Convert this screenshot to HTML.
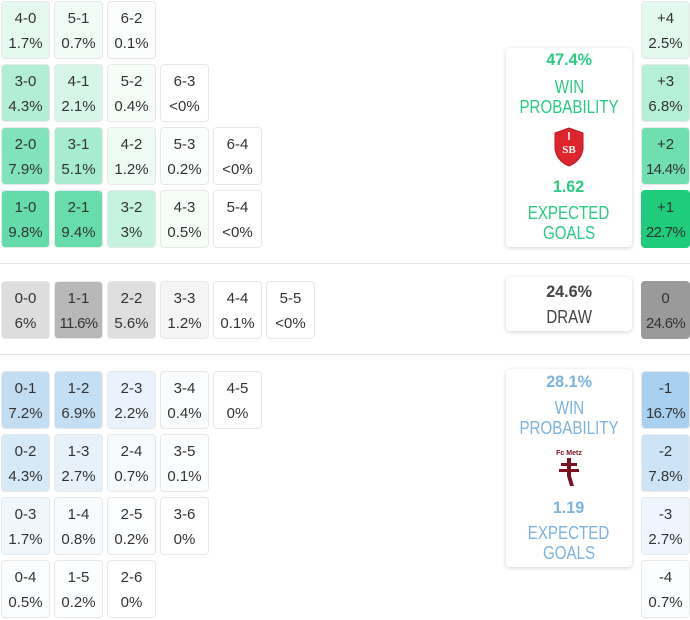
<!DOCTYPE html>
<html><head><meta charset="utf-8"><style>
body{margin:0;width:690px;height:620px;background:#fff;position:relative;overflow:hidden;font-family:"Liberation Sans",sans-serif;color:#333}
.c{position:absolute;width:47px;border:1px solid #e8e8e8;border-radius:4px;text-align:center;font-size:15px;line-height:25px;padding-top:4px;height:52px}
.c span{letter-spacing:-0.7px}
.hr{position:absolute;left:0;width:690px;height:1px;background:#e4e4e4}
.box{position:absolute;left:506px;width:126px;background:#fff;border-radius:4px;box-shadow:0 1px 4px rgba(0,0,0,.18);text-align:center;font-size:18px}
.t{position:absolute;left:0;width:126px;height:20px;line-height:20px;margin-top:-10px;text-align:center;white-space:nowrap}
.t span{display:inline-block;transform:scaleX(.84)}
.b{font-weight:bold;font-size:17px}
.b span{transform:scaleX(.95)}
</style></head><body>
<div class="c" style="left:1px;top:1px;background:#e6f9f0">4-0<br>1.7%</div>
<div class="c" style="left:54px;top:1px;background:#f1fcf7">5-1<br>0.7%</div>
<div class="c" style="left:107px;top:1px;background:#fbfefc">6-2<br>0.1%</div>

<div class="c" style="left:1px;top:64px;background:#b2eed5">3-0<br>4.3%</div>
<div class="c" style="left:54px;top:64px;background:#d5f6e8">4-1<br>2.1%</div>
<div class="c" style="left:107px;top:64px;background:#f6fdf9">5-2<br>0.4%</div>
<div class="c" style="left:160px;top:64px;background:#fff">6-3<br>&lt;0%</div>

<div class="c" style="left:1px;top:127px;background:#80e3bb">2-0<br>7.9%</div>
<div class="c" style="left:54px;top:127px;background:#a6ecd0">3-1<br>5.1%</div>
<div class="c" style="left:107px;top:127px;background:#eefbf5">4-2<br>1.2%</div>
<div class="c" style="left:160px;top:127px;background:#fcfefd">5-3<br>0.2%</div>
<div class="c" style="left:213px;top:127px;background:#fff">6-4<br>&lt;0%</div>

<div class="c" style="left:1px;top:190px;background:#63dcaa">1-0<br>9.8%</div>
<div class="c" style="left:54px;top:190px;background:#68ddac">2-1<br>9.4%</div>
<div class="c" style="left:107px;top:190px;background:#c5f3df">3-2<br>3%</div>
<div class="c" style="left:160px;top:190px;background:#f6fdf9">4-3<br>0.5%</div>
<div class="c" style="left:213px;top:190px;background:#fff">5-4<br>&lt;0%</div>

<div class="c" style="left:641px;top:1px;background:#e3f8ee">+4<br>2.5%</div>
<div class="c" style="left:641px;top:64px;background:#b6efd7">+3<br>6.8%</div>
<div class="c" style="left:641px;top:127px;background:#6fdfb0">+2<br><span>14.4%</span></div>
<div class="c" style="left:641px;top:190px;background:#1fcc7c;border-color:#1fcc7c">+1<br><span>22.7%</span></div>

<div class="box" style="top:48px;height:199px;color:#2bcb82">
<div class="t b" style="top:12px"><span>47.4%</span></div>
<div class="t" style="top:39px"><span>WIN</span></div>
<div class="t" style="top:59px"><span>PROBABILITY</span></div>
<svg width="32" height="40" viewBox="0 0 32 40" style="position:absolute;left:47px;top:79px"><path d="M2 6 L16 1 L30 6 L30 22 Q28 34 16 39 Q4 34 2 22Z" fill="#e0242e" stroke="#b51820"/><text x="16" y="26" font-size="11" text-anchor="middle" fill="#fff" font-family="Liberation Serif,serif" font-weight="bold">SB</text><path d="M16 5v8" stroke="#fff" stroke-width="1.5"/></svg>
<div class="t b" style="top:139px"><span>1.62</span></div>
<div class="t" style="top:165px"><span>EXPECTED</span></div>
<div class="t" style="top:185px"><span>GOALS</span></div>
</div>

<div class="hr" style="top:263px"></div>

<div class="c" style="left:1px;top:281px;background:#dddddd">0-0<br>6%</div>
<div class="c" style="left:54px;top:281px;background:#b8b8b8">1-1<br><span>11.6%</span></div>
<div class="c" style="left:107px;top:281px;background:#dedede">2-2<br>5.6%</div>
<div class="c" style="left:160px;top:281px;background:#f5f5f5">3-3<br>1.2%</div>
<div class="c" style="left:213px;top:281px;background:#fff">4-4<br>0.1%</div>
<div class="c" style="left:266px;top:281px;background:#fff">5-5<br>&lt;0%</div>
<div class="c" style="left:641px;top:281px;background:#9a9a9a;border-color:#999">0<br><span>24.6%</span></div>
<div class="box" style="top:277px;height:54px;color:#444">
<div class="t b" style="top:15px"><span>24.6%</span></div>
<div class="t" style="top:40px"><span>DRAW</span></div>
</div>

<div class="hr" style="top:354px"></div>

<div class="c" style="left:1px;top:371px;background:#c2ddf2">0-1<br>7.2%</div>
<div class="c" style="left:54px;top:371px;background:#c4def3">1-2<br>6.9%</div>
<div class="c" style="left:107px;top:371px;background:#eaf3fb">2-3<br>2.2%</div>
<div class="c" style="left:160px;top:371px;background:#fafcfe">3-4<br>0.4%</div>
<div class="c" style="left:213px;top:371px;background:#fff">4-5<br>0%</div>

<div class="c" style="left:1px;top:434px;background:#d6e9f7">0-2<br>4.3%</div>
<div class="c" style="left:54px;top:434px;background:#e6f1fa">1-3<br>2.7%</div>
<div class="c" style="left:107px;top:434px;background:#f7fafd">2-4<br>0.7%</div>
<div class="c" style="left:160px;top:434px;background:#fdfeff">3-5<br>0.1%</div>

<div class="c" style="left:1px;top:497px;background:#eff6fc">0-3<br>1.7%</div>
<div class="c" style="left:54px;top:497px;background:#f8fbfe">1-4<br>0.8%</div>
<div class="c" style="left:107px;top:497px;background:#fdfeff">2-5<br>0.2%</div>
<div class="c" style="left:160px;top:497px;background:#fff">3-6<br>0%</div>

<div class="c" style="left:1px;top:560px;background:#fafcfe">0-4<br>0.5%</div>
<div class="c" style="left:54px;top:560px;background:#fdfeff">1-5<br>0.2%</div>
<div class="c" style="left:107px;top:560px;background:#fff">2-6<br>0%</div>

<div class="c" style="left:641px;top:371px;background:#a8d0f0">-1<br><span>16.7%</span></div>
<div class="c" style="left:641px;top:434px;background:#cde4f6">-2<br>7.8%</div>
<div class="c" style="left:641px;top:497px;background:#eef5fc">-3<br>2.7%</div>
<div class="c" style="left:641px;top:560px;background:#fbfdfe">-4<br>0.7%</div>

<div class="box" style="top:369px;height:198px;color:#7db3de">
<div class="t b" style="top:13px"><span>28.1%</span></div>
<div class="t" style="top:39px"><span>WIN</span></div>
<div class="t" style="top:59px"><span>PROBABILITY</span></div>
<svg width="40" height="42" viewBox="0 0 40 42" style="position:absolute;left:43px;top:78px"><text x="20" y="8" font-size="7" text-anchor="middle" fill="#7a1020" font-family="Liberation Sans,sans-serif" font-weight="bold">Fc Metz</text><path d="M18 11h4v5h6v3h-6v3h8v3h-8v4l3 10h-4l-3-10v-4h-8v-3h8v-3h-6v-3h6z" fill="#7a1020"/></svg>
<div class="t b" style="top:139px"><span>1.19</span></div>
<div class="t" style="top:164px"><span>EXPECTED</span></div>
<div class="t" style="top:184px"><span>GOALS</span></div>
</div>
</body></html>
